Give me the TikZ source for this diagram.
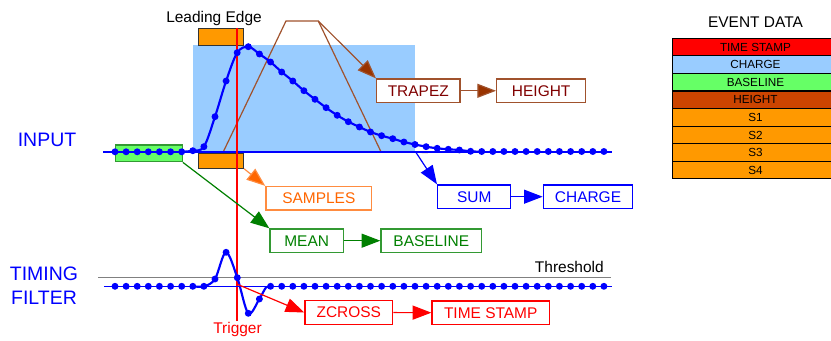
\documentclass[tikz,border=0pt]{standalone}
\usepackage{fontspec}
\setmainfont{Liberation Sans}
\usetikzlibrary{arrows.meta}
\definecolor{sigblue}{RGB}{0,0,255}
\definecolor{trigred}{RGB}{255,0,0}
\definecolor{winblue}{RGB}{153,204,255}
\definecolor{orng}{RGB}{255,153,0}
\definecolor{orngline}{RGB}{255,140,64}
\definecolor{orngtext}{RGB}{255,102,0}
\definecolor{brline}{RGB}{160,82,45}
\definecolor{brarrow}{RGB}{153,51,0}
\definecolor{brtext}{RGB}{128,0,0}
\definecolor{grtext}{RGB}{0,128,0}
\definecolor{grline}{RGB}{51,153,51}
\definecolor{grfill}{RGB}{102,255,102}
\definecolor{rust}{RGB}{204,68,0}
\definecolor{thr}{RGB}{128,128,128}
\tikzset{
  txt/.style={font=\fontsize{11.6pt}{13pt}\selectfont, inner sep=0pt},
  big/.style={font=\fontsize{14.6pt}{18pt}\selectfont, text=sigblue, align=center, inner sep=0pt},
  box/.style={draw, line width=1pt, fill=white, minimum height=17.6pt, inner sep=0pt, font=\fontsize{11.6pt}{13pt}\selectfont},
  tip/.style={-{Triangle[length=14pt,width=10.5pt]}},
  dot/.style={fill=sigblue, draw=none},
  row/.style={draw=black, line width=0.9pt, anchor=north west, minimum width=124.7pt, minimum height=13.2pt, inner sep=0pt, font=\fontsize{8.8pt}{10pt}\selectfont},
}
\begin{document}
\begin{tikzpicture}[x=0.75pt,y=-0.75pt]
\useasboundingbox (0,0) rectangle (831,341);
\fill[white] (0,0) rectangle (831,341);

% window rectangle and orange sample boxes
\node[fill=winblue, draw=none, minimum width=166.7pt, minimum height=80.2pt, inner sep=0pt, anchor=north west] (win) at (192.7,45) {};
\node[fill=orng, draw=black!80, line width=0.9pt, minimum width=33.7pt, minimum height=12.7pt, inner sep=0pt, anchor=north west] (otop) at (198,28) {};
\node[fill=orng, draw=black!80, line width=0.9pt, minimum width=33.7pt, minimum height=11.3pt, inner sep=0pt, anchor=north west] (obot) at (198,152.5) {};

% green baseline box
\node[fill=grfill, draw=grline, line width=0.9pt, minimum width=50pt, minimum height=12.5pt, inner sep=0pt, anchor=north west] (gbox) at (115,144.5) {};

% trapezoid
\coordinate (tr1) at (191.7,151.8);
\coordinate (tr2) at (223.3,151.8);
\coordinate (tr3) at (286,21);
\coordinate (tr4) at (318.3,21);
\coordinate (tr5) at (381,151.8);
\coordinate (tr6) at (428,152.5);
\draw[brline, line width=0.9pt] (tr1) -- (tr2) -- (tr3) -- (tr4) -- (tr5) -- (tr6);

% threshold
\coordinate (th1) at (98.3,277.3);
\coordinate (th2) at (610.7,277.3);
\draw[thr, line width=0.8pt] (th1) -- (th2);

% input signal
\coordinate (in1) at (103,152);
\coordinate (in2) at (612,152);
\draw[sigblue, line width=1.1pt] (in1) -- (in2);

% trigger line
\coordinate (trigtop) at (237.3,28);
\coordinate (trigbot) at (237.3,321);
\draw[trigred, line width=1.4pt] (trigtop) -- (trigbot);

\draw[sigblue, line width=1.6pt] plot[smooth, tension=0.55] coordinates {(181.7,151.8) (192.8,150.7) (203.9,146.7) (215,116.7) (226.1,81) (237.2,52.7) (248.3,46.7) (259.4,54) (270.5,62) (281.7,72) (292.8,81) (303.9,90.7) (315,99.3) (326.1,107.7) (337.2,115.3) (348.3,121.7) (359.4,127) (370.5,132) (381.6,135.7) (392.8,138.7) (403.9,142) (415,144.5) (426.1,146.7) (437.2,148.3) (448.3,149.3) (459.4,150) (470.6,151.3) (481.7,151.8)};
\foreach \x/\y in {115/151.8,126.1/151.8,137.2/151.8,148.3/151.8,159.4/151.8,170.6/151.8,181.7/151.8,192.8/150.7,203.9/146.7,215/116.7,226.1/81,237.2/52.7,248.3/46.7,259.4/54,270.5/62,281.7/72,292.8/81,303.9/90.7,315/99.3,326.1/107.7,337.2/115.3,348.3/121.7,359.4/127,370.5/132,381.6/135.7,392.8/138.7,403.9/142,415/144.5,426.1/146.7,437.2/148.3,448.3/149.3,459.4/150,470.6/151.3,481.7/151.5,492.8/151.5,503.9/151.5,515/151.5,526.1/151.5,537.2/151.5,548.3/151.5,559.4/151.5,570.6/151.5,581.7/151.5,592.8/151.5,603.9/151.5}
  \fill[dot] (\x,\y) circle (2.6pt);

% timing filter signal
\coordinate (tf1) at (104.3,286.3);
\coordinate (tf2) at (611.7,286.3);
\draw[sigblue, line width=1.1pt] (tf1) -- (tf2);
\draw[sigblue, line width=1.6pt] plot[smooth, tension=0.55] coordinates {(192.8,286.3) (204,286.3) (215,279) (226,252.3) (237.3,277.7) (248.3,313.3) (259.3,299) (266,287.5) (270.7,286.3)};
\foreach \x/\y in {115/286.3,126.1/286.3,137.2/286.3,148.3/286.3,159.4/286.3,170.6/286.3,181.7/286.3,192.8/286.3,203.9/286.3,215/279,226.1/252.3,237.3/277.7,248.3/313.3,259.4/299,270.6/286.3,281.7/286.3,292.8/286.3,303.9/286.3,315/286.3,326.1/286.3,337.2/286.3,348.3/286.3,359.4/286.3,370.5/286.3,381.6/286.3,392.8/286.3,403.9/286.3,415/286.3,426.1/286.3,437.2/286.3,448.3/286.3,459.4/286.3,470.6/286.3,481.7/286.3,492.8/286.3,503.9/286.3,515/286.3,526.1/286.3,537.2/286.3,548.3/286.3,559.4/286.3,570.6/286.3,581.7/286.3,592.8/286.3,603.9/286.3}
  \fill[dot] (\x,\y) circle (2.6pt);

% boxes
\node[box, draw=brline, text=brtext, minimum width=62.5pt] (trapez) at (418.3,90.8) {TRAPEZ};
\node[box, draw=brline, text=brtext, minimum width=66.8pt] (height) at (541.2,90.8) {HEIGHT};
\node[box, draw=sigblue, text=sigblue, minimum width=54.8pt] (sum) at (474.2,196.7) {SUM};
\node[box, draw=sigblue, text=sigblue, minimum width=67pt] (charge) at (588,196.7) {CHARGE};
\node[box, draw=orngline, text=orngtext, minimum width=79.3pt] (samples) at (318.8,198.3) {SAMPLES};
\node[box, draw=grline, text=grtext, minimum width=55pt] (mean) at (306.7,240.7) {MEAN};
\node[box, draw=grline, text=grtext, minimum width=75.5pt] (baseline) at (431.3,240.7) {BASELINE};
\node[box, draw=trigred, text=trigred, minimum width=65.8pt] (zcross) at (348.8,312.5) {ZCROSS};
\node[box, draw=trigred, text=trigred, minimum width=88pt] (tstamp) at (490.7,312.8) {TIME STAMP};

% connectors
\draw[brline, line width=0.9pt, -{Triangle[length=14pt,width=10.5pt,fill=brarrow]}] (tr4) -- (trapez.north west);
\draw[brline, line width=0.9pt, -{Triangle[length=14pt,width=10.5pt,fill=brarrow]}] (trapez) -- (height);
\coordinate (sumstart) at (416,152.5);
\draw[sigblue, line width=0.9pt, tip] (sumstart) -- (sum.north west);
\draw[sigblue, line width=0.9pt, tip] (sum) -- (charge);
\draw[orngline, line width=0.9pt, -{Triangle[length=14pt,width=10.5pt,fill=orngtext]}] (obot.south east) -- (samples.north west);
\draw[grtext, line width=0.9pt, tip] (gbox.south east) -- (mean.north west);
\draw[grtext, line width=0.9pt, tip] (mean) -- (baseline);
\coordinate (zcstart) at (237.8,284.5);
\draw[trigred, line width=0.9pt, tip] (zcstart) -- (zcross.west);
\draw[trigred, line width=0.9pt, tip] (zcross) -- (tstamp);

% labels
\node[txt, anchor=base] (le) at (214,22.7) {Leading Edge};
\node[txt, anchor=base east] (thl) at (604,272.3) {Threshold};
\node[txt, anchor=base, text=trigred] (trig) at (237.5,334) {Trigger};
\node[big] (input) at (47,140) {INPUT};
\node[big] (timing) at (44,285.5) {TIMING\\FILTER};

% event data table
\node[txt] (evt) at (755.5,22.5) {EVENT DATA};
\begin{scope}
\clip (0,0) rectangle (831,341);
\node[row, fill=trigred] (r1) at (671.7,37.7) {TIME STAMP};
\node[row, fill=winblue] (r2) at (671.7,55.3) {CHARGE};
\node[row, fill=grfill] (r3) at (671.7,72.8) {BASELINE};
\node[row, fill=rust] (r4) at (671.7,90.4) {HEIGHT};
\node[row, fill=orng] (r5) at (671.7,108) {S1};
\node[row, fill=orng] (r6) at (671.7,125.6) {S2};
\node[row, fill=orng] (r7) at (671.7,143.2) {S3};
\node[row, fill=orng] (r8) at (671.7,160.7) {S4};
\end{scope}
\end{tikzpicture}
\end{document}
